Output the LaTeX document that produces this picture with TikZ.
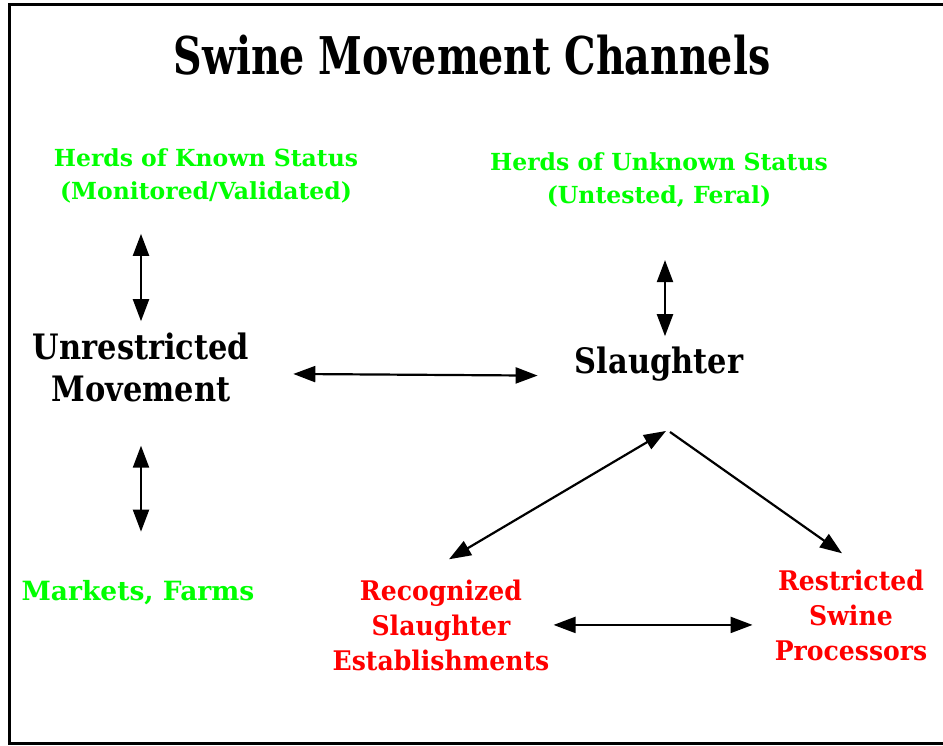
\documentclass[tikz,border=0pt]{standalone}
\usepackage{fontspec}
\usetikzlibrary{arrows.meta}
\newfontfamily\titlefont{DejaVu Serif}[FakeStretch=0.76]
\newfontfamily\hubfont{DejaVu Serif}[FakeStretch=0.87]
\newfontfamily\herdfont{DejaVu Serif}
\newfontfamily\plantfont{DejaVu Serif}[FakeStretch=0.93]

\begin{document}
\begin{tikzpicture}[
	x=1pt, y=-1pt,
	every node/.style = {inner sep=0pt, align=center, anchor=base},
	heading/.style = {font=\titlefont\bfseries\fontsize{52}{60}\selectfont},
	hub/.style = {font=\hubfont\bfseries\fontsize{35}{42}\selectfont},
	herd/.style = {text=green, font=\herdfont\bfseries\fontsize{23.5}{33}\selectfont},
	plant/.style = {text=red, font=\plantfont\bfseries\fontsize{27}{35}\selectfont},
	twoway/.style = {line width=2.2pt, {Triangle[length=22pt,width=16pt]}-{Triangle[length=22pt,width=16pt]}},
	oneway/.style = {line width=2.2pt, -{Triangle[length=22pt,width=16pt]}},
]
	\useasboundingbox (0,0) rectangle (943,746);
	\draw [line width=3pt] (960,5) -- (9,5) -- (9,743) -- (960,743);

	\node [heading] (title) at (472,75) {Swine Movement Channels};

	% multi-line nodes sit on the baseline of their last line
	\node [herd] (known) at (206,200) {Herds of Known Status\\(Monitored/Validated)};
	\node [herd] (unknown) at (659,204) {Herds of Unknown Status\\(Untested, Feral)};
	\node [hub] (unrestricted) at (141,401) {Unrestricted\\Movement};
	\node [hub] (slaughter) at (659,373) {Slaughter};
	\node [herd, font=\herdfont\bfseries\fontsize{26.5}{33}\selectfont] (markets) at (138,600) {Markets, Farms};
	\node [plant] (recognized) at (441,670) {Recognized\\Slaughter\\Establishments};
	\node [plant] (processors) at (851,660) {Restricted\\Swine\\Processors};

	\draw [twoway, shorten <=30pt, shorten >=11pt] (unrestricted.north |- known.south) -- (unrestricted.north);
	\draw [twoway, shorten <=44pt, shorten >=48pt] (unrestricted.south) -- (unrestricted.south |- markets.north);
	\draw [twoway] ([xshift=44pt,yshift=-7pt]unrestricted.east) -- ([xshift=-37pt,yshift=-12pt]slaughter.west);
	\draw [twoway, shorten <=52pt, shorten >=10pt] ([xshift=6pt]unknown.south) -- ([xshift=6pt]slaughter.north);
	\draw [twoway] ([xshift=7pt,yshift=-50pt]slaughter.south) -- ([xshift=8pt,yshift=20pt]recognized.north);
	\draw [oneway] ([xshift=11pt,yshift=-51pt]slaughter.south) -- ([xshift=-9pt,yshift=16pt]processors.north);
	\draw [twoway, shorten <=4pt, shorten >=22pt] (recognized.east) -- (recognized.east -| processors.west);
\end{tikzpicture}
\end{document}
